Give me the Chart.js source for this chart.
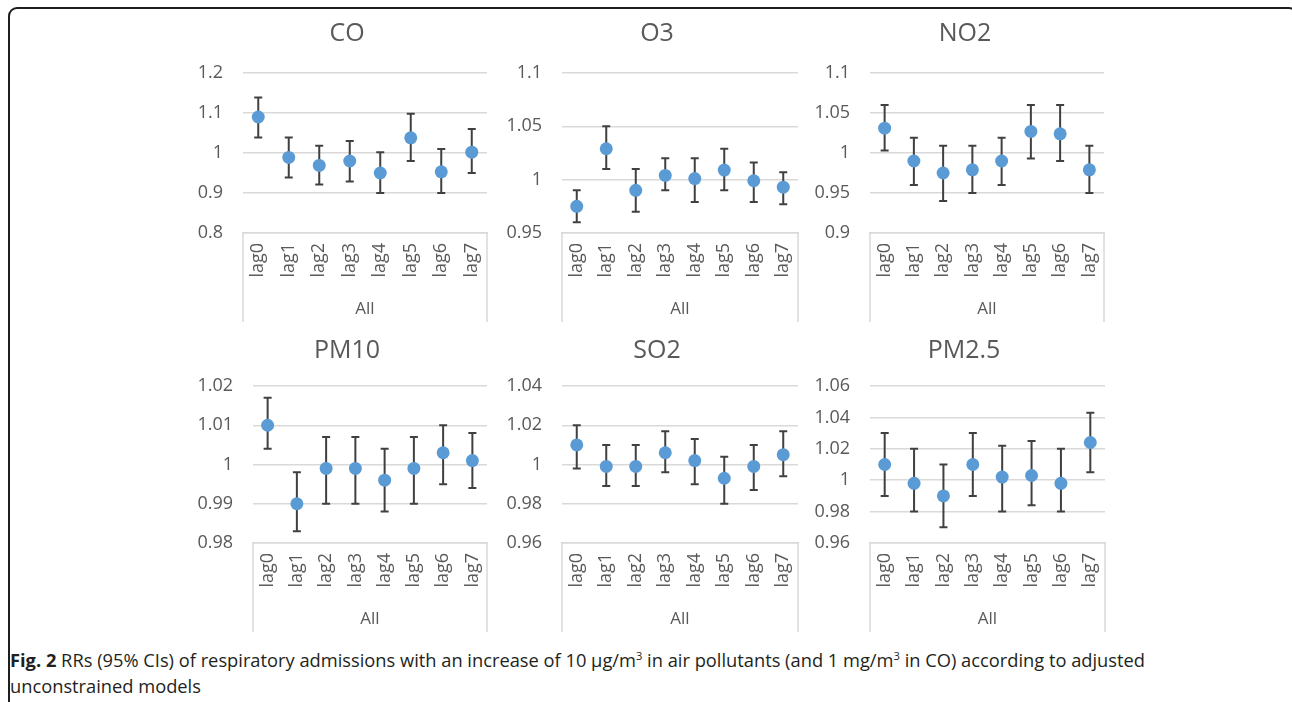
<!DOCTYPE html>
<html>
<head>
<meta charset="utf-8">
<script src="https://cdn.jsdelivr.net/npm/chart.js@4.4.1/dist/chart.umd.min.js"></script>
<style>
  html, body { margin: 0; padding: 0; background: #fff; }
  body { width: 1292px; height: 702px; position: relative; overflow: hidden; font-family: 'Open Sans', sans-serif; }
  .frame { position: absolute; left: 8px; top: 7px; width: 1286px; height: 740px; border: 2px solid #1e1e1e; border-radius: 9px; }
  canvas { position: absolute; }
  #caption { position: absolute; left: 10px; top: 647px; color: #231f20; font-size: 18px; }
  #caption .ln { display: inline-block; white-space: nowrap; line-height: 26px; transform-origin: 0 50%; }
  #caption sup { font-size: 11px; line-height: 0; vertical-align: 7px; }
</style>
</head>
<body>
<div class="frame"></div>

<canvas id="c-co"></canvas>
<canvas id="c-o3"></canvas>
<canvas id="c-no2"></canvas>
<canvas id="c-pm10"></canvas>
<canvas id="c-so2"></canvas>
<canvas id="c-pm25"></canvas>

<div id="caption">
  <div class="ln" id="cap1"><b>Fig. 2</b> RRs (95% CIs) of respiratory admissions with an increase of 10 μg/m<sup>3</sup> in air pollutants (and 1 mg/m<sup>3</sup> in CO) according to adjusted</div><br>
  <div class="ln" id="cap2">unconstrained models</div>
</div>

<script>
'use strict';

// ── Data ──
const lags = ['lag0', 'lag1', 'lag2', 'lag3', 'lag4', 'lag5', 'lag6', 'lag7'];
const group = 'All';

const coRR = [1.090, 0.989, 0.969, 0.980, 0.950, 1.038, 0.953, 1.002];
const coLo = [1.039, 0.939, 0.921, 0.929, 0.900, 0.980, 0.900, 0.950];
const coHi = [1.139, 1.039, 1.018, 1.030, 1.002, 1.098, 1.010, 1.060];
const coTicks = [0.8, 0.9, 1, 1.1, 1.2];

const o3RR = [0.975, 1.029, 0.990, 1.004, 1.001, 1.009, 0.999, 0.993];
const o3Lo = [0.960, 1.010, 0.970, 0.990, 0.979, 0.990, 0.979, 0.977];
const o3Hi = [0.990, 1.050, 1.010, 1.020, 1.020, 1.029, 1.016, 1.007];
const o3Ticks = [0.95, 1, 1.05, 1.1];

const no2RR = [1.031, 0.990, 0.975, 0.979, 0.990, 1.027, 1.024, 0.979];
const no2Lo = [1.003, 0.960, 0.940, 0.950, 0.960, 0.993, 0.990, 0.950];
const no2Hi = [1.060, 1.019, 1.009, 1.009, 1.019, 1.060, 1.060, 1.009];
const no2Ticks = [0.9, 0.95, 1, 1.05, 1.1];

const pm10RR = [1.010, 0.990, 0.999, 0.999, 0.996, 0.999, 1.003, 1.001];
const pm10Lo = [1.004, 0.983, 0.990, 0.990, 0.988, 0.990, 0.995, 0.994];
const pm10Hi = [1.017, 0.998, 1.007, 1.007, 1.004, 1.007, 1.010, 1.008];
const pm10Ticks = [0.98, 0.99, 1, 1.01, 1.02];

const so2RR = [1.010, 0.999, 0.999, 1.006, 1.002, 0.993, 0.999, 1.005];
const so2Lo = [0.998, 0.989, 0.989, 0.996, 0.990, 0.980, 0.987, 0.994];
const so2Hi = [1.020, 1.010, 1.010, 1.017, 1.013, 1.004, 1.010, 1.017];
const so2Ticks = [0.96, 0.98, 1, 1.02, 1.04];

const pm25RR = [1.010, 0.998, 0.990, 1.010, 1.002, 1.003, 0.998, 1.024];
const pm25Lo = [0.990, 0.980, 0.970, 0.990, 0.980, 0.984, 0.980, 1.005];
const pm25Hi = [1.030, 1.020, 1.010, 1.030, 1.022, 1.025, 1.020, 1.043];
const pm25Ticks = [0.96, 0.98, 1, 1.02, 1.04, 1.06];

// ── Panel placement (page pixels) ──
const panels = [
  { id: 'c-co',   title: 'CO',    rr: coRR,   lo: coLo,   hi: coHi,   ticks: coTicks,
    left: 130, top: 0,   width: 370, height: 322, plotL: 243, plotR: 487, plotT: 73,  titleX: 347, titleY: 34 },
  { id: 'c-o3',   title: 'O3',    rr: o3RR,   lo: o3Lo,   hi: o3Hi,   ticks: o3Ticks,
    left: 500, top: 0,   width: 320, height: 322, plotL: 562, plotR: 798, plotT: 73,  titleX: 657, titleY: 34 },
  { id: 'c-no2',  title: 'NO2',   rr: no2RR,  lo: no2Lo,  hi: no2Hi,  ticks: no2Ticks,
    left: 805, top: 0,   width: 315, height: 322, plotL: 870, plotR: 1104, plotT: 73, titleX: 965, titleY: 34 },
  { id: 'c-pm10', title: 'PM10',  rr: pm10RR, lo: pm10Lo, hi: pm10Hi, ticks: pm10Ticks,
    left: 130, top: 320, width: 370, height: 312, plotL: 253, plotR: 487, plotT: 386, titleX: 347, titleY: 351 },
  { id: 'c-so2',  title: 'SO2',   rr: so2RR,  lo: so2Lo,  hi: so2Hi,  ticks: so2Ticks,
    left: 500, top: 320, width: 320, height: 312, plotL: 562, plotR: 798, plotT: 386, titleX: 657, titleY: 351 },
  { id: 'c-pm25', title: 'PM2.5', rr: pm25RR, lo: pm25Lo, hi: pm25Hi, ticks: pm25Ticks,
    left: 805, top: 320, width: 315, height: 312, plotL: 870, plotR: 1105, plotT: 386, titleX: 964, titleY: 351 },
];

const AXIS_H = 89;       // height of the category box under the plot
const GRID = '#d9d9d9';
const TEXT = '#595959';

Chart.defaults.font.family = "'Open Sans', sans-serif";
Chart.defaults.color = TEXT;

// error bars, drawn under the markers
const errorBars = {
  id: 'errorBars',
  beforeDatasetsDraw(chart) {
    const ds = chart.data.datasets[0];
    const meta = chart.getDatasetMeta(0);
    const y = chart.scales.y;
    const ctx = chart.ctx;
    ctx.save();
    ctx.strokeStyle = '#404040';
    ctx.lineWidth = 2;
    meta.data.forEach((pt, i) => {
      const yl = y.getPixelForValue(ds.errLo[i]);
      const yh = y.getPixelForValue(ds.errHi[i]);
      ctx.beginPath();
      ctx.moveTo(pt.x, yl); ctx.lineTo(pt.x, yh);
      ctx.moveTo(pt.x - 4, yl); ctx.lineTo(pt.x + 4, yl);
      ctx.moveTo(pt.x - 4, yh); ctx.lineTo(pt.x + 4, yh);
      ctx.stroke();
    });
    ctx.restore();
  }
};

// Excel style multi-level category box with the group label
const groupAxis = {
  id: 'groupAxis',
  afterDraw(chart) {
    const x = chart.scales.x;
    const ctx = chart.ctx;
    ctx.save();
    ctx.strokeStyle = GRID;
    ctx.lineWidth = 1.5;
    ctx.beginPath();
    ctx.moveTo(x.left, x.top); ctx.lineTo(x.left, x.bottom);
    ctx.moveTo(x.right, x.top); ctx.lineTo(x.right, x.bottom);
    ctx.stroke();
    ctx.fillStyle = TEXT;
    ctx.font = "17px 'Open Sans', sans-serif";
    ctx.textAlign = 'center';
    ctx.textBaseline = 'middle';
    ctx.fillText(group, (x.left + x.right) / 2, x.bottom - 13);
    ctx.restore();
  }
};

// panel title, centred on the whole Excel chart rather than on the plot
const panelTitle = {
  id: 'panelTitle',
  afterDraw(chart, args, opts) {
    const ctx = chart.ctx;
    ctx.save();
    ctx.fillStyle = TEXT;
    ctx.font = "25px 'Open Sans', sans-serif";
    ctx.textAlign = 'center';
    ctx.textBaseline = 'middle';
    ctx.fillText(opts.text, opts.x, opts.y);
    ctx.restore();
  }
};

function makePanel(p) {
  const canvas = document.getElementById(p.id);
  canvas.width = p.width;
  canvas.height = p.height;
  canvas.style.left = p.left + 'px';
  canvas.style.top = p.top + 'px';

  const padR = p.left + p.width - p.plotR;
  const yW = p.plotL - p.left;
  const step = +(p.ticks[1] - p.ticks[0]).toFixed(4);

  return new Chart(canvas, {
    type: 'line',
    data: {
      labels: lags,
      datasets: [{
        data: p.rr,
        errLo: p.lo,
        errHi: p.hi,
        showLine: false,
        pointRadius: 6.5,
        pointBackgroundColor: '#5b9bd5',
        pointBorderWidth: 0,
      }]
    },
    options: {
      responsive: false,
      animation: false,
      devicePixelRatio: 1,
      layout: { padding: { left: 0, right: padR, top: p.plotT - p.top, bottom: 0 } },
      plugins: {
        legend: { display: false },
        tooltip: { enabled: false },
        title: { display: false },
        panelTitle: { text: p.title, x: p.titleX - p.left, y: p.titleY - p.top },
      },
      scales: {
        x: {
          type: 'category',
          offset: true,
          grid: { display: false, drawTicks: false },
          border: { display: true, color: GRID, width: 1.5 },
          ticks: { minRotation: 90, maxRotation: 90, autoSkip: false, padding: 10, color: TEXT, font: { size: 18 } },
          afterFit(s) { s.height = AXIS_H; s.paddingLeft = 0; s.paddingRight = 0; },
        },
        y: {
          min: p.ticks[0],
          max: p.ticks[p.ticks.length - 1],
          grid: { color: GRID, lineWidth: 1.5, drawTicks: false },
          border: { display: false },
          ticks: {
            stepSize: step,
            padding: 20,
            color: TEXT,
            font: { size: 18 },
            callback: v => String(+v.toFixed(3)),
          },
          afterFit(s) { s.width = yW; s.paddingTop = 0; s.paddingBottom = 0; },
        },
      },
    },
    plugins: [errorBars, groupAxis, panelTitle],
  });
}

panels.forEach(makePanel);

// squeeze the caption to the condensed width of the original
const cap1 = document.getElementById('cap1');
const cap2 = document.getElementById('cap2');
const k = 1135 / cap1.getBoundingClientRect().width;
cap1.style.transform = `scaleX(${k})`;
cap2.style.transform = `scaleX(${k})`;
</script>
</body>
</html>
